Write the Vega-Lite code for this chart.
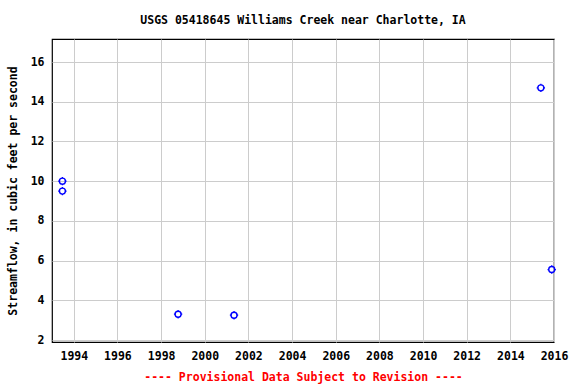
{
  "$schema": "https://vega.github.io/schema/vega-lite/v6.json",
  "width": 502,
  "height": 303,
  "autosize": {"type": "none"},
  "padding": {"left": 52, "top": 39, "right": 22, "bottom": 42},
  "background": "white",
  "title": {
    "text": "USGS 05418645 Williams Creek near Charlotte, IA",
    "font": "DejaVu Sans Mono",
    "fontSize": 11.5,
    "fontWeight": "bold",
    "color": "black",
    "anchor": "middle",
    "offset": 13
  },
  "data": {
    "values": [
      {"date": "1993-06-24", "flow": 10.0},
      {"date": "1993-06-24", "flow": 9.5},
      {"date": "1998-10-12", "flow": 3.3},
      {"date": "2001-05-05", "flow": 3.25},
      {"date": "2015-05-26", "flow": 14.7},
      {"date": "2015-11-24", "flow": 5.55}
    ]
  },
  "encoding": {
    "x": {
      "field": "date",
      "type": "temporal",
      "scale": {"domain": ["1993-01-01", "2016-01-01"]},
      "axis": {
        "title": "---- Provisional Data Subject to Revision ----",
        "titleColor": "red",
        "titleFont": "DejaVu Sans Mono",
        "titleFontSize": 11.5,
        "titleFontWeight": "bold",
        "titlePadding": 10,
        "format": "%Y",
        "values": ["1994-01-01", "1996-01-01", "1998-01-01", "2000-01-01", "2002-01-01", "2004-01-01", "2006-01-01", "2008-01-01", "2010-01-01", "2012-01-01", "2014-01-01", "2016-01-01"],
        "labelPadding": 8,
        "labelFlush": false,
        "labelOverlap": false
      }
    },
    "y": {
      "field": "flow",
      "type": "quantitative",
      "scale": {"domain": [1.9, 17.16], "nice": false, "zero": false},
      "axis": {
        "title": "Streamflow, in cubic feet per second",
        "values": [2, 4, 6, 8, 10, 12, 14, 16],
        "titlePadding": 12,
        "labelPadding": 8
      }
    }
  },
  "layer": [
    {
      "mark": {"type": "point", "shape": "circle", "filled": false, "size": 36, "stroke": "#0000ff", "strokeWidth": 1.4, "opacity": 1}
    },
    {
      "mark": {"type": "point", "shape": "M0,-1V-0.7M0,0.7V1M-1,0H-0.7M0.7,0H1", "filled": false, "size": 70, "stroke": "#0000ff", "strokeWidth": 1.2, "opacity": 1}
    }
  ],
  "config": {
    "view": {"stroke": "black", "strokeWidth": 1.2},
    "axis": {
      "grid": true,
      "gridColor": "#cccccc",
      "gridWidth": 1,
      "gridOpacity": 1,
      "ticks": false,
      "domain": false,
      "labelFont": "DejaVu Sans Mono",
      "labelFontSize": 11.5,
      "labelFontWeight": "bold",
      "labelColor": "black",
      "titleFont": "DejaVu Sans Mono",
      "titleFontSize": 11.5,
      "titleFontWeight": "bold",
      "titleColor": "black"
    }
  }
}
